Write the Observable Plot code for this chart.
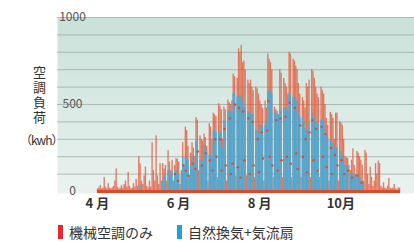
<!DOCTYPE html>
<html><head><meta charset="utf-8">
<script src="https://cdn.jsdelivr.net/npm/d3@7"></script>
<script src="https://cdn.jsdelivr.net/npm/@observablehq/plot@0.6"></script>
<style>
body{margin:0;background:#fff;font-family:"Noto Sans CJK JP","Noto Sans",sans-serif;}
#wrap{position:relative;width:414px;height:242px;overflow:hidden;background:#fff}
#chart svg{display:block}
#ylab{position:absolute;left:32px;top:66px;writing-mode:vertical-rl;font-size:13px;letter-spacing:2px;color:#333;line-height:14px}
#yunit{position:absolute;left:20px;top:131px;font-size:12px;color:#333;letter-spacing:-1px}
#legend{position:absolute;left:58px;top:225px;display:flex;align-items:center;font-size:14px;color:#333;line-height:14px}
#legend .item{display:flex;align-items:center;margin-right:24px}
#legend .sw{width:5px;height:14px;margin-right:6px}
</style></head><body>
<div id="wrap">
<div id="chart"></div>
<div id="ylab">空調負荷</div>
<div id="yunit">（kwh）</div>
<div id="legend"></div>
</div>
<script>
// Day index 0 = April 1
const seriesNames = ["機械空調のみ", "自然換気+気流扇"];
const seriesColors = ["#e8282a", "#1ca3dc"];
const monthTickDays = [0, 61, 122, 183];
const monthLabels = ["4 月", "6 月", "8 月", "10月"];
const yTicks = [0, 500, 1000];
const yTickLabels = ["0", "500", "1000"];
const gridTicks = [100, 200, 300, 400, 500, 600, 700, 800, 900, 1000];

// 機械空調のみ (daily, kWh)
const redVals = [
  15, 20, 35, 15, 20, 80, 25, 15, 45, 20,
  15, 20, 30, 60, 130, 25, 15, 20, 35, 20,
  40, 60, 25, 110, 30, 15, 20, 45, 25, 70,
  30, 200, 160, 60, 40, 90, 140, 30, 20, 60,
  25, 280, 120, 60, 320, 90, 40, 160, 60, 160,
  130, 150, 60, 235, 170, 120, 180, 60, 150, 190,
  185, 170, 40, 120, 280, 150, 370, 350, 260, 90,
  220, 280, 250, 200, 425, 410, 120, 320, 300, 290,
  330, 310, 260, 60, 390, 370, 300, 450, 440, 430,
  80, 505, 490, 470, 300, 485, 470, 60, 525, 510,
  500, 520, 675, 660, 90, 650, 820, 800, 840, 740,
  750, 700, 90, 640, 620, 640, 600, 580, 80, 600,
  590, 560, 520, 500, 480, 60, 520, 480, 790, 760,
  740, 700, 80, 485, 470, 460, 440, 700, 680, 80,
  650, 620, 600, 560, 800, 790, 80, 760, 750, 720,
  700, 620, 560, 80, 540, 520, 480, 620, 600, 640,
  80, 700, 690, 650, 600, 560, 540, 80, 600, 580,
  560, 500, 420, 380, 60, 455, 440, 420, 300, 450,
  450, 60, 400, 395, 380, 300, 200, 195, 190, 150,
  120, 180, 245, 150, 100, 230, 220, 200, 180, 150,
  60, 235, 220, 100, 40, 140, 80, 30, 60, 160,
  100, 175, 160, 30, 20, 50, 20, 15, 30, 75,
  20, 15, 20, 40, 15, 10, 20, 20
];
// 自然換気+気流扇 (daily, kWh)
const blueVals = [
  0, 0, 0, 0, 0, 0, 0, 0, 0, 0,
  0, 0, 0, 0, 0, 0, 0, 0, 0, 0,
  0, 0, 0, 0, 0, 0, 0, 0, 0, 0,
  0, 0, 35, 0, 0, 0, 0, 0, 0, 0,
  0, 0, 0, 0, 0, 0, 0, 0, 0, 60,
  90, 100, 0, 120, 110, 90, 120, 0, 110, 120,
  120, 100, 0, 90, 195, 150, 195, 190, 180, 0,
  150, 200, 180, 160, 290, 290, 0, 180, 180, 170,
  265, 260, 240, 0, 210, 210, 200, 350, 350, 340,
  0, 345, 340, 330, 250, 410, 400, 0, 465, 460,
  460, 450, 560, 560, 0, 540, 550, 550, 550, 520,
  480, 480, 0, 460, 450, 450, 440, 440, 0, 350,
  350, 340, 380, 380, 370, 0, 380, 400, 580, 580,
  570, 560, 0, 450, 450, 440, 440, 465, 465, 0,
  480, 480, 470, 460, 560, 560, 0, 540, 540, 530,
  520, 450, 425, 0, 420, 400, 360, 350, 350, 390,
  0, 450, 450, 420, 400, 390, 390, 0, 410, 410,
  400, 380, 320, 300, 0, 290, 290, 280, 250, 260,
  250, 0, 230, 230, 200, 180, 150, 150, 140, 0,
  100, 110, 100, 90, 0, 100, 90, 80, 60, 60,
  0, 0, 0, 0, 0, 0, 0, 0, 0, 0,
  0, 0, 0, 0, 0, 0, 0, 0, 0, 0,
  0, 0, 0, 0, 0, 0, 0, 0
];
// red markers visible inside the blue bars [day, kWh]
const dotDays = [58,60,64,66,68,71,73,75,78,81,84,86,88,89,92,93,95,96,99,100,101,103,105,106,107,109,110,113,114,116,117,120,121,123,124,127,128,129,131,134,135,137,138,141,142,144,145,148,149,150,152,154,156,157,159,161,162,164,165,168,169,171,172,175,176,178,180,183,185,188,191,195,198];
const dotVals = [100,60,150,120,90,160,130,230,150,220,180,120,300,200,300,120,360,150,420,100,160,500,140,480,80,460,180,420,100,400,150,300,110,340,190,350,520,200,150,410,120,420,180,430,200,510,160,480,220,130,380,200,300,110,340,410,180,360,120,370,200,330,140,250,100,210,150,180,100,120,80,90,50];

const rows = redVals.map((r, i) => ({day: i, red: r, blue: blueVals[i]}));
const dots = dotDays.map((d, i) => ({day: d, v: dotVals[i]}));

const chart = Plot.plot({
  width: 414, height: 218,
  marginTop: 17, marginBottom: 25, marginLeft: 57, marginRight: 0,
  style: {fontFamily: '"Noto Sans CJK JP","Noto Sans",sans-serif', background: "transparent"},
  x: {type: "linear", domain: [-30, 238.4]},
  y: {domain: [-11.5, 1000]},
  marks: [
    Plot.frame({fill: "url(#bgGrad)", stroke: "none"}),
    Plot.gridY(gridTicks, {stroke: "#8c9894", strokeOpacity: 0.6, strokeWidth: 1}),
    Plot.rectY(rows, {x1: d => d.day, x2: d => d.day + 1, y: "red", fill: "#e35a3a", fillOpacity: 0.8}),
    Plot.rectY(rows.filter(d => d.blue > 0), {x1: d => d.day, x2: d => d.day + 1, y: "blue", fill: "#4aaad6"}),
    Plot.dot(dots, {x: d => d.day + 0.5, y: "v", r: 1.2, fill: "#e04a2a", stroke: "none"}),
    Plot.ruleY([0], {x1: rows[0].day, x2: rows[rows.length - 1].day + 1, stroke: "#e0472b", strokeWidth: 3}),
    Plot.axisY(yTicks, {tickSize: 0, tickPadding: 0, textAnchor: "middle", dx: 15, fontSize: 12, fill: "#555", label: null,
      tickFormat: d => yTickLabels[yTicks.indexOf(d)]}),
    Plot.axisX(monthTickDays, {tickSize: 0, tickPadding: 5, fontSize: 13, fontWeight: "bold", fill: "#333",
      tickFormat: d => monthLabels[monthTickDays.indexOf(d)], label: null})
  ]
});

const ns = "http://www.w3.org/2000/svg";
const defs = document.createElementNS(ns, "defs");
const grad = document.createElementNS(ns, "linearGradient");
grad.setAttribute("id", "bgGrad");
grad.setAttribute("x1", "0"); grad.setAttribute("y1", "0");
grad.setAttribute("x2", "0"); grad.setAttribute("y2", "1");
[["0%", "#c9e1d9"], ["100%", "#e9f2ef"]].forEach(([o, c]) => {
  const s = document.createElementNS(ns, "stop");
  s.setAttribute("offset", o); s.setAttribute("stop-color", c);
  grad.appendChild(s);
});
defs.appendChild(grad);
chart.insertBefore(defs, chart.firstChild);
document.getElementById("chart").appendChild(chart);

const legend = document.getElementById("legend");
seriesNames.forEach((name, i) => {
  const item = document.createElement("div");
  item.className = "item";
  const sw = document.createElement("div");
  sw.className = "sw";
  sw.style.background = seriesColors[i];
  const t = document.createElement("span");
  t.textContent = name;
  item.appendChild(sw); item.appendChild(t);
  legend.appendChild(item);
});
</script>
</body></html>
